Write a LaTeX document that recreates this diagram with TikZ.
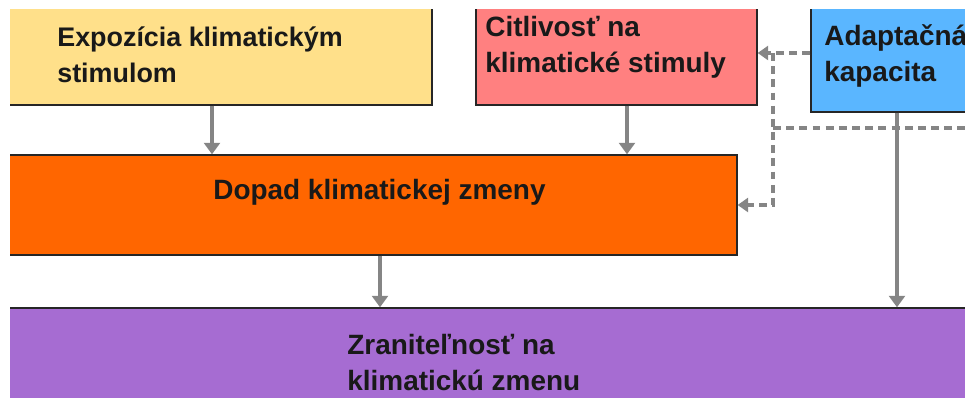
\documentclass[tikz,border=0pt]{standalone}
\usepackage{fontspec}
\setmainfont{Liberation Sans}
\usetikzlibrary{arrows.meta}

\definecolor{expocol}{HTML}{FFE08A}
\definecolor{citlcol}{HTML}{FF8080}
\definecolor{adapcol}{HTML}{5AB6FF}
\definecolor{dopacol}{HTML}{FF6600}
\definecolor{zranicol}{HTML}{A66CD2}
\definecolor{linecol}{HTML}{858585}

\begin{document}
\begin{tikzpicture}[x = 0.02cm, y = -0.02cm,
	box/.style = {draw = black!85, line width = 0.8pt, inner sep = 0pt},
	lbl/.style = {anchor = base west, inner sep = 0pt, align = left,
		font = \fontsize{15.9}{20.6}\selectfont\bfseries, text = black!90},
	arr/.style = {draw = linecol, line width = 2.2pt,
		-{Triangle[width = 9pt, length = 6.5pt]}},
	dasharr/.style = {draw = linecol, line width = 2.2pt, dash pattern = on 4.5pt off 3pt,
		-{Triangle[width = 8pt, length = 6pt]}},
	dashln/.style = {draw = linecol, line width = 2.2pt, dash pattern = on 4.5pt off 3pt}]
	\useasboundingbox (0,0) rectangle (965,398);
	\clip (10,10) rectangle (965,398);

	% Nodes
	\node[box, fill = expocol, minimum width = 8.54cm, minimum height = 2.3cm] (expo) at (218.5,47.5) {};
	\node[box, fill = citlcol, minimum width = 5.62cm, minimum height = 2.3cm] (citl) at (616.5,47.5) {};
	\node[box, fill = adapcol, minimum width = 3.78cm, minimum height = 2.44cm] (adap) at (905.5,51) {};
	\node[box, fill = dopacol, minimum width = 14.64cm, minimum height = 2cm] (dopa) at (371,205) {};
	\node[box, fill = zranicol, minimum width = 19.9cm, minimum height = 2.24cm] (zrani) at (502.5,364) {};

	% Labels (base = last line)
	\node[lbl, font = \fontsize{15.3}{20.6}\selectfont\bfseries] (expotxt) at (57,83) {Expozícia klimatickým\\stimulom};
	\node[lbl] (citltxt) at (485,73) {Citlivosť na\\klimatické stimuly};
	\node[lbl] (adaptxt) at (824,82) {Adaptačná\\kapacita};
	\node[lbl] (dopatxt) at (213,200) {Dopad klimatickej zmeny};
	\node[lbl] (zranitxt) at (347,391) {Zraniteľnosť na\\klimatickú zmenu};

	% Junctions
	\coordinate (jn) at (773,53);
	\coordinate (kn) at (773,128);
	\coordinate (rim) at (965,128);

	% Arrows
	\draw[arr] ([xshift = -0.13cm]expo.south) -- ([xshift = -0.13cm]expo.south |- dopa.north);
	\draw[arr] ([xshift = 0.21cm]citl.south) -- ([xshift = 0.21cm]citl.south |- dopa.north);
	\draw[arr] ([xshift = 0.18cm]dopa.south) -- ([xshift = 0.18cm]dopa.south |- zrani.north);
	\draw[arr] ([xshift = -0.17cm]adap.south) -- ([xshift = -0.17cm]adap.south |- zrani.north);
	\draw[dasharr] (adap.west |- jn) -- (citl.east |- jn);
	\draw[dasharr] (jn) |- (dopa.east);
	\draw[dashln] (kn) -- (rim);
\end{tikzpicture}
\end{document}
